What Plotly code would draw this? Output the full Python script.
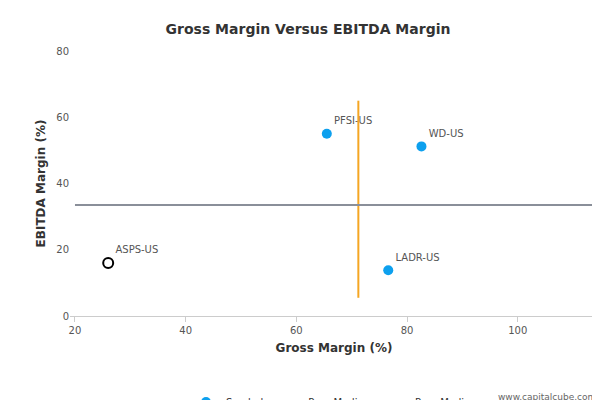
import plotly.graph_objects as go

symbols = ["PFSI-US", "WD-US", "LADR-US"]
gross = [65.5, 82.6, 76.6]
ebitda = [55.0, 51.2, 13.8]
focus_name = ["ASPS-US"]
focus_gross = [26.0]
focus_ebitda = [16.0]
median_gross = 71.2
median_ebitda = 33.5
vline_y = [5.5, 65]
hline_x = [20, 115]

fig = go.Figure()
fig.add_trace(go.Scatter(
    x=gross, y=ebitda, mode="markers+text", text=symbols,
    textposition="top right", name="Symbol",
    marker=dict(color="#0da0ee", size=10),
    textfont=dict(size=10, color="#555")))
fig.add_trace(go.Scatter(
    x=focus_gross, y=focus_ebitda, mode="markers+text", text=focus_name,
    textposition="top right", showlegend=False,
    marker=dict(color="white", size=10, line=dict(color="black", width=2)),
    textfont=dict(size=10, color="#555")))
fig.add_trace(go.Scatter(
    x=[median_gross, median_gross], y=vline_y, mode="lines",
    name="Peer Median", line=dict(color="#f5a623", width=2)))
fig.add_trace(go.Scatter(
    x=hline_x, y=[median_ebitda, median_ebitda], mode="lines",
    name="Peer Median", line=dict(color="#8a8f99", width=2)))

fig.update_layout(
    width=600, height=400, plot_bgcolor="white", paper_bgcolor="white",
    font=dict(family="DejaVu Sans", size=11, color="#333"),
    title=dict(text="<b>Gross Margin Versus EBITDA Margin</b>", x=0.5, y=0.96,
               font=dict(size=14, color="#333")),
    margin=dict(l=62, r=10, t=43, b=92, autoexpand=False),
    xaxis=dict(title=dict(text="<b>Gross Margin (%)</b>", font=dict(size=12), standoff=8),
               range=[19.1, 114.5], tickvals=[20, 40, 60, 80, 100], showgrid=False,
               zeroline=False, showline=True, linecolor="#ccc", ticks="outside",
               tickcolor="#ccc", tickfont=dict(size=10, color="#555"), automargin=False),
    yaxis=dict(title=dict(text="<b>EBITDA Margin (%)</b>", font=dict(size=12), standoff=8),
               range=[0, 80], tickvals=[0, 20, 40, 60, 80], showgrid=False,
               zeroline=False, tickfont=dict(size=10, color="#555"), automargin=False),
    legend=dict(orientation="h", x=0.5, xanchor="center", y=-0.27,
                font=dict(size=10, color="#333")),
    annotations=[dict(text="www.capitalcube.com", x=1, y=0, xref="paper",
                      yref="paper", xanchor="right", yanchor="bottom",
                      yshift=-88, showarrow=False,
                      font=dict(size=9, color="#666"))],
)
fig.write_html("out.html")
